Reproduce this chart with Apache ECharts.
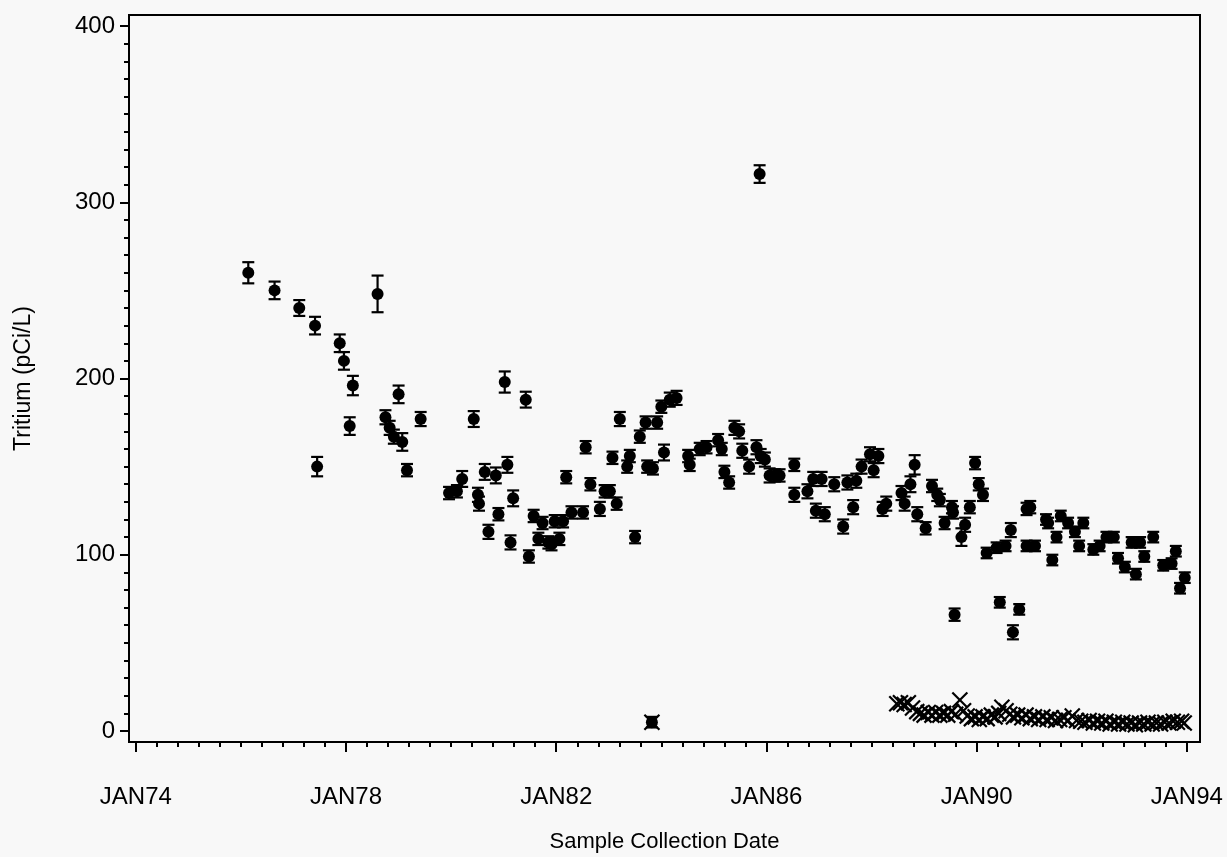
<!DOCTYPE html>
<html>
<head>
<meta charset="utf-8">
<title>Tritium</title>
<script src="https://cdn.jsdelivr.net/npm/echarts@6.0.0/dist/echarts.min.js"></script>
<style>
  html, body { margin: 0; padding: 0; background: #f8f8f8; }
  #chart { width: 1227px; height: 857px; }
</style>
</head>
<body>
<div id="chart"></div>
<script>
// sample dates (decimal years), tritium (pCi/L), half-length of error bar
const dates = [
  1976.14, 1976.64, 1977.11, 1977.41, 1977.45, 1977.88, 1977.96, 1978.07, 1978.13, 1978.60,
  1978.75, 1978.83, 1978.91, 1979.00, 1979.07, 1979.16, 1979.42, 1979.96, 1980.11, 1980.21,
  1980.43, 1980.51, 1980.53, 1980.64, 1980.71, 1980.85, 1980.90, 1981.02, 1981.07, 1981.13,
  1981.18, 1981.42, 1981.48, 1981.57, 1981.66, 1981.74, 1981.85, 1981.91, 1981.97, 1982.06,
  1982.13, 1982.19, 1982.29, 1982.51, 1982.56, 1982.65, 1982.83, 1982.92, 1983.02, 1983.07,
  1983.15, 1983.21, 1983.35, 1983.40, 1983.50, 1983.59, 1983.70, 1983.73, 1983.82, 1983.84,
  1983.92, 1984.00, 1984.05, 1984.16, 1984.29, 1984.51, 1984.54, 1984.73, 1984.86, 1985.08,
  1985.15, 1985.20, 1985.29, 1985.39, 1985.48, 1985.54, 1985.67, 1985.81, 1985.87, 1985.89,
  1985.97, 1986.06, 1986.16, 1986.25, 1986.53, 1986.53, 1986.78, 1986.89, 1986.94, 1987.05,
  1987.11, 1987.29, 1987.46, 1987.54, 1987.65, 1987.71, 1987.81, 1987.97, 1988.04, 1988.13,
  1988.21, 1988.28, 1988.57, 1988.63, 1988.74, 1988.82, 1988.87, 1989.03, 1989.15, 1989.25,
  1989.30, 1989.39, 1989.53, 1989.55, 1989.58, 1989.71, 1989.78, 1989.87, 1989.97, 1990.04,
  1990.12, 1990.19, 1990.38, 1990.44, 1990.55, 1990.65, 1990.69, 1990.81, 1990.95, 1990.95,
  1991.02, 1991.11, 1991.32, 1991.36, 1991.44, 1991.52, 1991.60, 1991.74, 1991.87, 1991.95,
  1992.03, 1992.22, 1992.34, 1992.47, 1992.61, 1992.69, 1992.82, 1992.95, 1993.03, 1993.11,
  1993.19, 1993.36, 1993.55, 1993.71, 1993.79, 1993.87, 1993.96
];
const tritium = [
  260, 250, 240, 230, 150, 220, 210, 173, 196, 248,
  178, 172, 167, 191, 164, 148, 177, 135, 136, 143,
  177, 134, 129, 147, 113, 145, 123, 198, 151, 107,
  132, 188, 99, 122, 109, 118, 107, 106, 119, 109,
  119, 144, 124, 124, 161, 140, 126, 136, 136, 155,
  129, 177, 150, 156, 110, 167, 175, 150, 5, 149,
  175, 184, 158, 188, 189, 156, 151, 160, 161, 165,
  160, 147, 141, 172, 170, 159, 150, 161, 316, 156,
  154, 145, 145, 145, 151, 134, 136, 143, 125, 143,
  123, 140, 116, 141, 127, 142, 150, 157, 148, 156,
  126, 129, 135, 129, 140, 151, 123, 115, 139, 134,
  131, 118, 127, 124, 66, 110, 117, 127, 152, 140,
  134, 101, 104, 73, 105, 114, 56, 69, 126, 105,
  127, 105, 120, 118, 97, 110, 122, 118, 113, 105,
  118, 103, 105, 110, 110, 98, 93, 107, 89, 107,
  99, 110, 94, 95, 102, 81, 87
];
const errors = [
  6, 5, 4.5, 5, 5.5, 5, 5, 5, 5.5, 10.4,
  4, 4, 4, 5, 5, 3.5, 4, 3.5, 3.5, 4.5,
  4.5, 4, 4, 4.5, 4, 4.5, 3.5, 6, 4.5, 4,
  4.5, 4.5, 3.5, 3.5, 3.5, 3.5, 3.5, 3.5, 3.5, 3.5,
  3.5, 3.5, 3.5, 3.5, 3.5, 3.5, 4, 3.5, 3.5, 3.5,
  3.5, 4, 3.5, 3.5, 3.5, 3.5, 3.5, 3.5, 3, 3.5,
  3.5, 3.5, 4.5, 4, 4, 3.5, 3.5, 3.5, 3.5, 3.5,
  3.5, 3.5, 3.5, 4, 4, 4, 4, 4, 5, 4,
  4, 4, 3.5, 3.5, 3.5, 4, 4, 4, 4, 4,
  4, 4, 4, 4, 4, 4, 4, 4, 4, 4,
  4, 4, 4, 4, 4.5, 5.5, 4, 3.5, 3.5, 3.5,
  3.5, 3.5, 3.5, 3.5, 3.5, 5, 4, 3.5, 3.5, 3.5,
  3.5, 3, 3, 3, 3, 4, 4, 3, 3.5, 3,
  3.5, 3, 3, 3, 3, 3, 3, 3, 3, 3,
  3, 3, 3, 3, 3, 3, 3, 3, 3, 3,
  3, 3, 3, 3, 3, 3, 3
];

// samples drawn with an X marker
const xDates = [
  1983.82,
  1988.48, 1988.55, 1988.62, 1988.70, 1988.78, 1988.86, 1988.93, 1989.00, 1989.08, 1989.15,
  1989.22, 1989.30, 1989.37, 1989.45, 1989.52, 1989.60, 1989.68, 1989.75, 1989.82, 1989.90,
  1989.97, 1990.05, 1990.12, 1990.20, 1990.28, 1990.35, 1990.42, 1990.48, 1990.56, 1990.63,
  1990.70, 1990.78, 1990.86, 1990.94, 1991.02, 1991.10, 1991.18, 1991.26, 1991.34, 1991.42,
  1991.50, 1991.58, 1991.66, 1991.74, 1991.82, 1991.90, 1991.98, 1992.06, 1992.14, 1992.22,
  1992.30, 1992.38, 1992.46, 1992.54, 1992.62, 1992.70, 1992.78, 1992.86, 1992.94, 1993.02,
  1993.10, 1993.18, 1993.26, 1993.34, 1993.42, 1993.50, 1993.58, 1993.66, 1993.74, 1993.82,
  1993.90, 1993.95
];
const xTritium = [
  5,
  15.5, 16, 15, 16, 13, 11, 10, 9, 10.5, 9,
  10.5, 9, 10, 9, 11, 9.5, 17.6, 11.5, 8.5, 7,
  8, 6.5, 8, 7, 9, 8, 10, 13.5, 11.5, 9.5,
  8, 9, 7.5, 9, 7, 8, 6.5, 8, 6.5, 7.5,
  6, 6.5, 7.5, 6, 8.5, 6, 5.5, 5, 6, 4.5,
  5.5, 4.5, 5.5, 4, 5, 4, 5, 4, 4.5, 3.5,
  4.5, 4, 5, 4, 4.5, 4, 5, 4.5, 5.5, 5,
  5.5, 4.5
];

// axis ticks
const majorYears = [1974, 1978, 1982, 1986, 1990, 1994];
const yTicks = [0, 100, 200, 300, 400];

const minorYears = [];
for (let i = 0; i <= 50; i++) minorYears.push(+(1974 + i * 0.4).toFixed(2));
const minorY = [];
for (let v = 0; v <= 400; v += 10) minorY.push(v);

const ink = '#000';
const font = "'Liberation Sans', Arial, sans-serif";

const chart = echarts.init(document.getElementById('chart'));

const pointData = dates.map((d, i) => [d, tritium[i], errors[i]]);
const crossData = xDates.map((d, i) => [d, xTritium[i]]);

const option = {
  backgroundColor: '#f8f8f8',
  animation: false,
  textStyle: { fontFamily: font, color: ink },
  grid: {
    left: 129,
    right: 27,
    top: 15,
    bottom: 115,
    outerBoundsMode: 'none',
    show: true,
    borderColor: ink,
    borderWidth: 2,
    backgroundColor: 'transparent',
  },
  xAxis: [
    {
      type: 'value',
      position: 'bottom',
      min: 1973.87,
      max: 1994.25,
      axisLine: { onZero: false, lineStyle: { color: ink, width: 2 } },
      axisTick: { customValues: majorYears, length: 10, lineStyle: { color: ink, width: 2 } },
      axisLabel: {
        customValues: majorYears,
        formatter: v => 'JAN' + String(Math.round(v)).slice(2),
        fontSize: 24,
        color: ink,
        margin: 43,
        fontFamily: font,
      },
      splitLine: { show: false },
      name: 'Sample Collection Date',
      nameLocation: 'middle',
      nameGap: 89,
      nameTextStyle: { fontSize: 22, color: ink, fontFamily: font },
    },
    {
      // 次刻度
      type: 'value',
      position: 'bottom',
      offset: 0,
      min: 1973.87,
      max: 1994.25,
      axisLine: { show: false, onZero: false },
      axisTick: { customValues: minorYears, length: 5, lineStyle: { color: ink, width: 2 } },
      axisLabel: { show: false },
      splitLine: { show: false },
    },
  ],
  yAxis: [
    {
      type: 'value',
      position: 'left',
      min: -6.25,
      max: 406.25,
      axisLine: { onZero: false, lineStyle: { color: ink, width: 2 } },
      axisTick: { customValues: yTicks, length: 9, lineStyle: { color: ink, width: 2 } },
      axisLabel: {
        customValues: yTicks,
        fontSize: 24,
        color: ink,
        margin: 14,
        fontFamily: font,
      },
      splitLine: { show: false },
      name: 'Tritium (pCi/L)',
      nameLocation: 'middle',
      nameGap: 94,
      nameTextStyle: { fontSize: 23, color: ink, fontFamily: font },
    },
    {
      type: 'value',
      position: 'left',
      offset: 0,
      min: -6.25,
      max: 406.25,
      axisLine: { show: false, onZero: false },
      axisTick: { customValues: minorY, length: 5, lineStyle: { color: ink, width: 2 } },
      axisLabel: { show: false },
      splitLine: { show: false },
    },
  ],
  series: [
    {
      // 误差线
      type: 'custom',
      data: pointData,
      z: 2,
      renderItem: (params, api) => {
        const x = api.value(0);
        const y = api.value(1);
        const e = api.value(2);
        const top = api.coord([x, y + e]);
        const bot = api.coord([x, y - e]);
        const hw = 6;
        const st = { stroke: ink, lineWidth: 2.2 };
        return {
          type: 'group',
          children: [
            { type: 'line', shape: { x1: top[0], y1: top[1], x2: bot[0], y2: bot[1] }, style: st },
            { type: 'line', shape: { x1: top[0] - hw, y1: top[1], x2: top[0] + hw, y2: top[1] }, style: st },
            { type: 'line', shape: { x1: bot[0] - hw, y1: bot[1], x2: bot[0] + hw, y2: bot[1] }, style: st },
          ],
        };
      },
    },
    {
      type: 'scatter',
      data: pointData,
      symbol: 'circle',
      symbolSize: 12,
      itemStyle: { color: ink, opacity: 1 },
      z: 3,
    },
    {
      // X 标记
      type: 'custom',
      data: crossData,
      z: 4,
      renderItem: (params, api) => {
        const p = api.coord([api.value(0), api.value(1)]);
        const h = 7.5;
        const st = { stroke: ink, lineWidth: 2.2 };
        return {
          type: 'group',
          children: [
            { type: 'line', shape: { x1: p[0] - h, y1: p[1] - h, x2: p[0] + h, y2: p[1] + h }, style: st },
            { type: 'line', shape: { x1: p[0] - h, y1: p[1] + h, x2: p[0] + h, y2: p[1] - h }, style: st },
          ],
        };
      },
    },
  ],
};

chart.setOption(option);
</script>
</body>
</html>
